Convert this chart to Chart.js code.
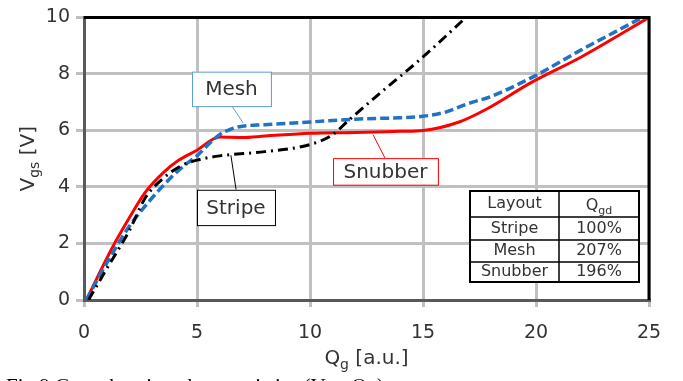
<!DOCTYPE html>
<html>
<head>
<meta charset="utf-8">
<script src="https://cdn.jsdelivr.net/npm/chart.js@4.4.1/dist/chart.umd.min.js"></script>
<style>
  body { margin: 0; background: #fff; }
  #wrap { width: 683px; height: 381px; position: relative; }
</style>
</head>
<body>
<div id="wrap"><canvas id="myChart" width="683" height="381"></canvas></div>
<script>
// ---- data ----
const stripeQ = [0.2, 1, 2, 2.7, 3.5, 4.3, 5, 6, 8, 10, 11, 11.7, 13, 15, 16.9];
const stripeV = [0, 1.1, 2.45, 3.6, 4.3, 4.75, 4.95, 5.1, 5.25, 5.5, 5.85, 6.35, 7.25, 8.6, 10];

const meshQ = [0.1, 1, 2, 3, 4, 4.5, 5, 5.5, 6, 6.5, 7, 8, 10, 12, 14, 15, 16, 17, 18, 20, 22, 24, 24.7];
const meshV = [0, 1.3, 2.6, 3.6, 4.45, 4.8, 5.1, 5.5, 5.85, 6.05, 6.15, 6.2, 6.3, 6.4, 6.45, 6.5, 6.65, 6.95, 7.2, 7.95, 8.85, 9.7, 10];

const snubQ = [0.1, 1.25, 2, 2.7, 3.5, 4.2, 5, 6, 7, 8, 10, 12, 14, 15, 16.6, 17.8, 19.8, 22, 25];
const snubV = [0, 1.85, 2.9, 3.8, 4.5, 4.95, 5.3, 5.77, 5.75, 5.8, 5.9, 5.93, 5.97, 6.0, 6.3, 6.75, 7.7, 8.6, 10];

const xTicks = [0, 5, 10, 15, 20, 25];
const yTicks = [0, 2, 4, 6, 8, 10];

const tableHead = ["Layout", "Qgd"];
const tableRows = [["Stripe", "100%"], ["Mesh", "207%"], ["Snubber", "196%"]];

const pts = (xs, ys) => xs.map((x, i) => ({ x: x, y: ys[i] }));

const FONT = '"DejaVu Sans", Verdana, sans-serif';
const TXT = '#333333';

// text with a subscript part, e.g. V + gs
function subWidth(ctx, main, sub, rest, size) {
    ctx.font = size + 'px ' + FONT;
    let w = ctx.measureText(main).width + ctx.measureText(rest).width;
    ctx.font = Math.round(size * 0.7) + 'px ' + FONT;
    return w + ctx.measureText(sub).width;
}
function drawSub(ctx, main, sub, rest, size, x, y) {
    ctx.textAlign = 'left';
    ctx.textBaseline = 'alphabetic';
    ctx.font = size + 'px ' + FONT;
    ctx.fillText(main, x, y);
    x += ctx.measureText(main).width;
    ctx.font = Math.round(size * 0.7) + 'px ' + FONT;
    ctx.fillText(sub, x, y + size * 0.25);
    x += ctx.measureText(sub).width;
    ctx.font = size + 'px ' + FONT;
    ctx.fillText(rest, x, y);
}

// callout boxes in data units
const callouts = [
    { text: 'Mesh', color: '#5b9bd5', box: [4.78, 8.08, 8.27, 6.86], line: [6.55, 6.86, 7.04, 6.27] },
    { text: 'Stripe', color: '#000000', box: [5.0, 3.9, 8.45, 2.65], line: [6.73, 3.9, 6.5, 5.12] },
    { text: 'Snubber', color: '#ff0000', box: [11.02, 5.02, 15.66, 4.08], line: [13.32, 5.02, 12.79, 5.85] }
];

const extras = {
    id: 'extras',
    afterDraw(chart) {
        const ctx = chart.ctx;
        const a = chart.chartArea;
        const xs = chart.scales.x, ys = chart.scales.y;
        ctx.save();

        // top and right frame
        ctx.strokeStyle = '#000';
        ctx.lineWidth = 3;
        ctx.beginPath();
        ctx.moveTo(a.left, a.top);
        ctx.lineTo(a.right, a.top);
        ctx.lineTo(a.right, a.bottom);
        ctx.stroke();

        // callouts
        for (const c of callouts) {
            const x1 = xs.getPixelForValue(c.box[0]), y1 = ys.getPixelForValue(c.box[1]);
            const x2 = xs.getPixelForValue(c.box[2]), y2 = ys.getPixelForValue(c.box[3]);
            ctx.strokeStyle = c.color;
            ctx.lineWidth = 1;
            ctx.beginPath();
            ctx.moveTo(xs.getPixelForValue(c.line[0]), ys.getPixelForValue(c.line[1]));
            ctx.lineTo(xs.getPixelForValue(c.line[2]), ys.getPixelForValue(c.line[3]));
            ctx.stroke();
            ctx.fillStyle = '#fff';
            ctx.fillRect(x1, y1, x2 - x1, y2 - y1);
            ctx.strokeRect(x1 + 0.5, y1 + 0.5, x2 - x1, y2 - y1);
            ctx.fillStyle = TXT;
            ctx.font = '20px ' + FONT;
            ctx.textAlign = 'center';
            ctx.textBaseline = 'middle';
            ctx.fillText(c.text, (x1 + x2) / 2, (y1 + y2) / 2 + 1);
        }

        // table
        const tx = [470, 559, 639];
        const ty = [191, 217, 240, 262, 282];
        ctx.fillStyle = '#fff';
        ctx.fillRect(tx[0], ty[0], tx[2] - tx[0], ty[4] - ty[0]);
        ctx.strokeStyle = '#000';
        ctx.lineWidth = 2;
        ctx.strokeRect(tx[0], ty[0], tx[2] - tx[0], ty[4] - ty[0]);
        ctx.lineWidth = 1.5;
        ctx.beginPath();
        ctx.moveTo(tx[1], ty[0]); ctx.lineTo(tx[1], ty[4]);
        for (let i = 1; i < 4; i++) { ctx.moveTo(tx[0], ty[i]); ctx.lineTo(tx[2], ty[i]); }
        ctx.stroke();
        ctx.fillStyle = TXT;
        ctx.font = '16px ' + FONT;
        ctx.textAlign = 'center';
        ctx.textBaseline = 'middle';
        ctx.fillText(tableHead[0], (tx[0] + tx[1]) / 2, (ty[0] + ty[1]) / 2);
        const hw = subWidth(ctx, 'Q', 'gd', '', 16);
        drawSub(ctx, 'Q', 'gd', '', 16, (tx[1] + tx[2]) / 2 - hw / 2, (ty[0] + ty[1]) / 2 + 6);
        ctx.textAlign = 'center';
        ctx.textBaseline = 'middle';
        ctx.font = '16px ' + FONT;
        tableRows.forEach((r, i) => {
            const cy = (ty[i + 1] + ty[i + 2]) / 2;
            ctx.fillText(r[0], (tx[0] + tx[1]) / 2, cy);
            ctx.fillText(r[1], (tx[1] + tx[2]) / 2, cy);
        });

        // axis titles
        ctx.fillStyle = TXT;
        const xw = subWidth(ctx, 'Q', 'g', ' [a.u.]', 20);
        drawSub(ctx, 'Q', 'g', ' [a.u.]', 20, (a.left + a.right) / 2 - xw / 2, 364);
        ctx.save();
        ctx.translate(34, (a.top + a.bottom) / 2);
        ctx.rotate(-Math.PI / 2);
        const yw = subWidth(ctx, 'V', 'gs', ' [V]', 20);
        drawSub(ctx, 'V', 'gs', ' [V]', 20, -yw / 2, 0);
        ctx.restore();

        // caption, cut by the bottom edge
        ctx.fillStyle = '#000';
        ctx.font = '21px "Liberation Serif", "Times New Roman", serif';
        ctx.textAlign = 'left';
        ctx.textBaseline = 'alphabetic';
        ctx.fillText('Fig.9 Gate charging characteristics (Vgs-Qg)', 6, 393);

        ctx.restore();
    }
};

new Chart(document.getElementById('myChart'), {
    type: 'line',
    data: {
        datasets: [
            {
                label: 'Stripe',
                data: pts(stripeQ, stripeV),
                borderColor: '#000000',
                borderWidth: 3,
                borderDash: [10, 5, 2, 5],
                pointRadius: 0,
                cubicInterpolationMode: 'monotone'
            },
            {
                label: 'Mesh',
                data: pts(meshQ, meshV),
                borderColor: '#1f72c4',
                borderWidth: 3.5,
                borderDash: [9, 4],
                pointRadius: 0,
                cubicInterpolationMode: 'monotone'
            },
            {
                label: 'Snubber',
                data: pts(snubQ, snubV),
                borderColor: '#ff0000',
                borderWidth: 3,
                pointRadius: 0,
                cubicInterpolationMode: 'monotone'
            }
        ]
    },
    options: {
        responsive: false,
        animation: false,
        layout: { padding: { top: 13, right: 34, left: 0, bottom: 0 } },
        plugins: { legend: { display: false }, tooltip: { enabled: false } },
        scales: {
            x: {
                type: 'linear',
                min: 0,
                max: 25,
                afterBuildTicks: s => { s.ticks = xTicks.map(v => ({ value: v })); },
                afterFit: s => { s.height = 81; },
                ticks: { color: TXT, font: { family: FONT, size: 19 }, padding: 15, maxRotation: 0 },
                grid: { color: '#c0c0c0', lineWidth: 3, tickLength: 7 },
                border: { color: '#595959', width: 3 }
            },
            y: {
                type: 'linear',
                min: 0,
                max: 10,
                afterBuildTicks: s => { s.ticks = yTicks.map(v => ({ value: v })); },
                afterFit: s => { s.width = 84; },
                ticks: { color: TXT, font: { family: FONT, size: 19 }, padding: 6 },
                grid: { color: '#c0c0c0', lineWidth: 3, tickLength: 8 },
                border: { color: '#595959', width: 3 }
            }
        }
    },
    plugins: [extras]
});
</script>
</body>
</html>
